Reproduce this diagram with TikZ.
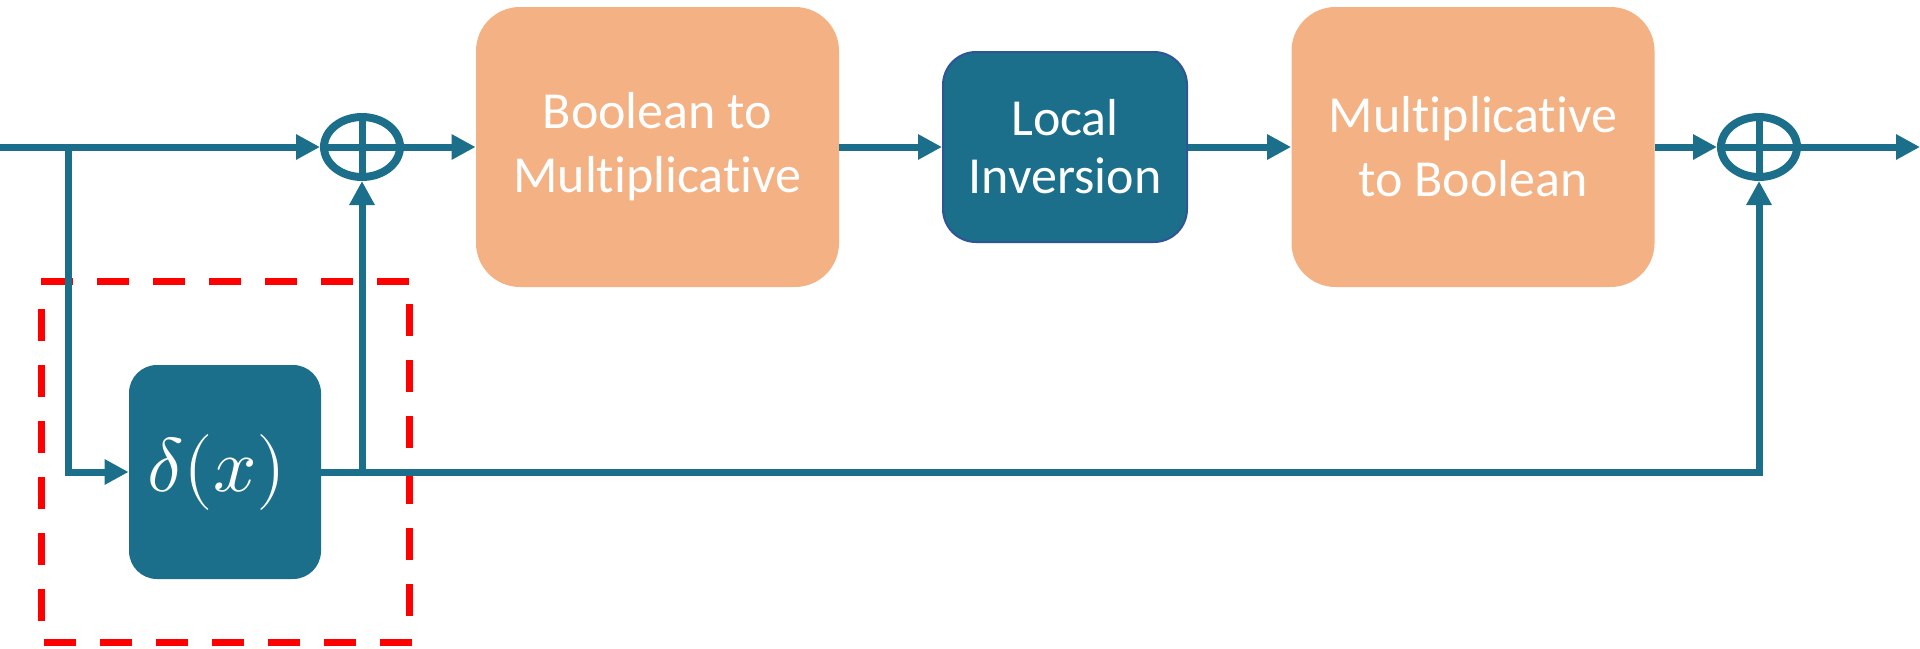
\documentclass[tikz,border=0pt]{standalone}
\usepackage{fontspec}
\usepackage{unicode-math}
\setmainfont{Carlito}[Ligatures={NoCommon,NoDiscretionary,NoRare}]
\usetikzlibrary{arrows.meta,shapes.geometric,calc}

\definecolor{teal}{RGB}{27,111,138}
\definecolor{peach}{RGB}{244,177,131}
\definecolor{edgeblue}{RGB}{47,85,151}

\tikzset{
  flow/.style={draw=teal, line width=3.5pt, -{Triangle[length=12pt,width=12pt]}},
  xorgate/.style={ellipse, draw=teal, line width=4pt, inner sep=0pt,
    minimum width=38pt, minimum height=30pt,
    path picture={
      \draw[teal, line width=3.5pt]
        (path picture bounding box.north) -- (path picture bounding box.south)
        (path picture bounding box.west) -- (path picture bounding box.east);
    }},
  convbox/.style={rectangle, fill=peach, rounded corners=22pt, inner sep=0pt,
    minimum width=181.5pt, minimum height=140pt, align=center, text=white,
    font=\fontsize{26}{32}\selectfont},
  invbox/.style={rectangle, fill=teal, draw=edgeblue, line width=1pt,
    rounded corners=16.5pt, inner sep=0pt,
    minimum width=122pt, minimum height=95pt, align=center, text=white,
    font=\fontsize{26}{29}\selectfont},
  maskbox/.style={rectangle, fill=teal, rounded corners=14pt, inner sep=0pt,
    minimum width=96pt, minimum height=107pt, text=white,
    font=\fontsize{38}{44}\selectfont},
  region/.style={draw=red, line width=3.5pt, dash pattern=on 16pt off 12pt}
}

\begin{document}
\begin{tikzpicture}[x=0.5pt, y=-0.5pt]
  \useasboundingbox (0,0) rectangle (1920,648);

  % main blocks
  \node[xorgate] (xorA) at (362,147) {};
  \node[convbox] (b2m) at (657.5,147) {Boolean to\\Multiplicative};
  \node[invbox] (inv) at (1065,147) {Local\\Inversion};
  \node[convbox] (m2b) at (1473,147) {Multiplicative\\to Boolean};
  \node[xorgate] (xorB) at (1759,147) {};
  \node[maskbox] (mask) at (225,472) {$\delta(x)$\kern8pt};

  % free ends and junctions
  \coordinate (in) at (0,147);
  \coordinate (out) at (1920,147);
  \coordinate (split) at (68,147);
  \coordinate (tap) at (mask.east -| xorA.south);

  % dashed region around the mask block, one stroke per side
  \draw[region] (41,281) -- (409,281);
  \draw[region] (41,309) -- (41,622);
  \draw[region] (409,304) -- (409,617);
  \draw[region] (44,642) -- (413,642);

  % forward path
  \draw[flow] (in) -- (xorA.west);
  \draw[flow] (xorA.east) -- (b2m.west);
  \draw[flow] (b2m.east) -- (inv.west);
  \draw[flow] (inv.east) -- (m2b.west);
  \draw[flow] (m2b.east) -- (xorB.west);
  \draw[flow] (xorB.east) -- (out);

  % mask path
  \draw[flow] (split) |- (mask.west);
  \draw[flow] (mask.east) -| (xorB.south);
  \draw[flow] (tap) -- (xorA.south);
\end{tikzpicture}
\end{document}
